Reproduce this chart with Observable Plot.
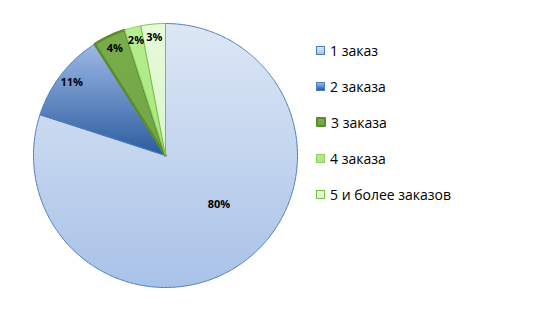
<!DOCTYPE html>
<html><head><meta charset="utf-8">
<script src="https://cdn.jsdelivr.net/npm/d3@7"></script>
<script src="https://cdn.jsdelivr.net/npm/@observablehq/plot@0.6"></script>
<style>
html,body{margin:0;padding:0;background:#fff;}
#wrap{position:relative;width:534px;height:326px;}
#legend{position:absolute;left:316px;top:32px;font-family:"Open Sans",sans-serif;font-size:14px;color:#000;}
.item{display:flex;align-items:center;height:36.1px;margin:0;}
.sw{width:7px;height:7px;margin-right:5px;box-sizing:content-box;}
</style>
</head><body>
<div id="wrap"><div id="chart"></div><div id="legend"></div></div>
<script>
const categories = ["1 заказ", "2 заказа", "3 заказа", "4 заказа", "5 и более заказов"];
const values = [80, 11, 4, 2, 3];
const labels = ["80%", "11%", "4%", "2%", "3%"];
const gradTop = ["#dde7f5", "#9db8e6", "#79ad4c", "#b5ee8e", "#e6fada"];
const gradBottom = ["#a9c2e8", "#2b5c9e", "#71a545", "#abe57f", "#dcf5cc"];
const strokes = ["#4a7ebb", "#4a7ebb", "#5b8a2f", "#8fd060", "#78bf46"];
const strokeWidths = [1, 1, 2.5, 1, 1];

const arcs = d3.pie().sort(null).value(d => d)(values);

// slice outlines in unit coordinates (angle 0 at top, clockwise)
const slices = arcs.map((a, i) => {
  const pts = [{x: 0, y: 0}];
  const n = Math.max(2, Math.ceil((a.endAngle - a.startAngle) / 0.01));
  for (let k = 0; k <= n; k++) {
    const t = a.startAngle + (a.endAngle - a.startAngle) * k / n;
    pts.push({x: Math.sin(t), y: Math.cos(t)});
  }
  pts.push({x: 0, y: 0});
  return pts;
});

const labelData = arcs.map((a, i) => {
  const mid = (a.startAngle + a.endAngle) / 2;
  const big = a.data > 50;
  const rr = big ? 0.55 : 0.9;
  const ang = big ? mid - 0.2 : mid;
  return {x: rr * Math.sin(ang), y: rr * Math.cos(ang), label: labels[i]};
});

const defs = () => {
  const d = d3.create("svg:defs");
  gradTop.forEach((c, i) => {
    const g = d.append("linearGradient").attr("id", "g" + i).attr("x1", 0).attr("y1", 0).attr("x2", 0).attr("y2", 1);
    g.append("stop").attr("offset", 0).attr("stop-color", c);
    g.append("stop").attr("offset", 1).attr("stop-color", gradBottom[i]);
  });
  const f = d.append("filter").attr("id", "shadow").attr("x", "-10%").attr("y", "-10%").attr("width", "120%").attr("height", "130%");
  f.append("feDropShadow").attr("dx", 0).attr("dy", 2).attr("stdDeviation", 2).attr("flood-color", "#000").attr("flood-opacity", 0.25);
  return d.node();
};

const plot = Plot.plot({
  width: 534,
  height: 326,
  marginLeft: 33,
  marginRight: 237,
  marginTop: 23,
  marginBottom: 39,
  x: {domain: [-1, 1], axis: null},
  y: {domain: [-1, 1], axis: null},
  marks: [
    defs,
    ...slices.map((pts, i) => Plot.line(pts, {
      x: "x", y: "y",
      fill: `url(#g${i})`,
      stroke: strokes[i],
      strokeWidth: strokeWidths[i],
      strokeLinejoin: "round",
      style: i === 0 ? "filter:url(#shadow)" : undefined
    })),
    Plot.text(labelData, {
      x: "x", y: "y", text: "label",
      fontFamily: "Open Sans, sans-serif",
      fontWeight: "bold",
      fontSize: 11,
      fill: "#000"
    })
  ]
});
document.getElementById("chart").appendChild(plot);

const legend = d3.select("#legend");
categories.forEach((c, i) => {
  const it = legend.append("div").attr("class", "item");
  it.append("div").attr("class", "sw")
    .style("background", `linear-gradient(${gradTop[i]}, ${gradBottom[i]})`)
    .style("border", `${i === 2 ? 2 : 1}px solid ${strokes[i]}`)
    .style("width", i === 2 ? "6px" : "7px")
    .style("height", i === 2 ? "6px" : "7px")
    .style("border-radius", i === 2 ? "1px" : "0");
  it.append("span").text(c);
});
</script>
</body></html>
